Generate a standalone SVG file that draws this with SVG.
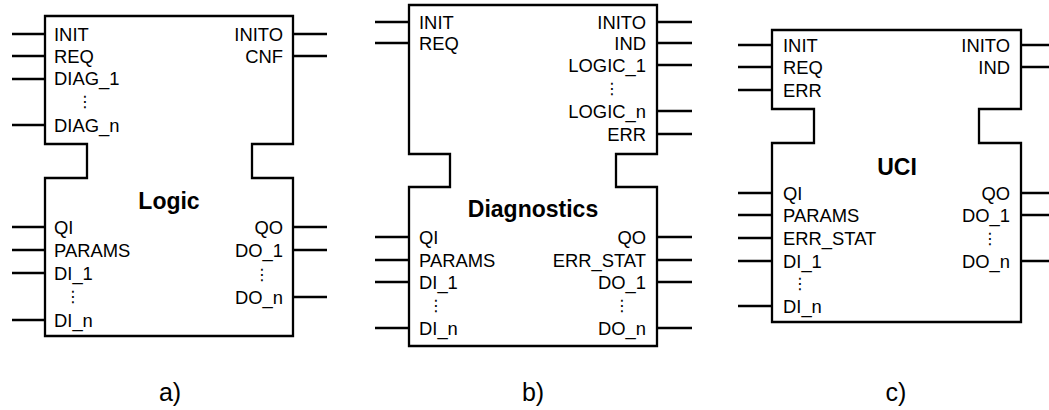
<svg xmlns="http://www.w3.org/2000/svg" width="1049" height="410" viewBox="0 0 1049 410">
<style>
.box{fill:#fff;stroke:#000;stroke-width:2.3;stroke-linejoin:miter}
.pin{stroke:#000;stroke-width:2.3;fill:none}
text{font-family:"Liberation Sans",Arial,sans-serif;fill:#000}
.l{font-size:18.4px}
.r{font-size:18.4px;text-anchor:end}
.t{font-size:23px;font-weight:bold;text-anchor:middle}
.d{font-family:"DejaVu Sans",sans-serif;font-size:16px;text-anchor:middle}
.cap{font-size:25px;text-anchor:middle}
</style>
<rect width="1049" height="410" fill="#fff"/>
<g id="connectors">
<path class="pin" d="M12,34H45M12,56H45M12,79H45M12,125H45M12,227H45M12,250H45M12,273H45M12,320H45M293,34H327M293,56H327M293,227H327M293,250H327M293,297H327"/>
<path class="pin" d="M375,22H409M375,43H409M375,237H409M375,260H409M375,282H409M375,328H409M657,22H692M657,43H692M657,65H692M657,111H692M657,134H692M657,237H692M657,260H692M657,282H692M657,328H692"/>
<path class="pin" d="M738,45H772M738,67H772M738,90H772M738,193H772M738,215H772M738,238H772M738,261H772M738,306H772M1021,45H1049M1021,67H1049M1021,193H1049M1021,215H1049M1021,261H1049"/>
</g>
<g id="logic">
<path class="box" d="M45,16H293V144H252V178H293V336H45V178H87V144H45Z"/>
<text class="l" x="54" y="40.5">INIT</text>
<text class="l" x="54" y="62.5">REQ</text>
<text class="l" x="54" y="85">DIAG_1</text>
<text class="d" x="85" y="107">⋮</text>
<text class="l" x="54" y="131.5">DIAG_n</text>
<text class="r" x="283" y="40.5">INITO</text>
<text class="r" x="283" y="62.5">CNF</text>
<text class="t" x="169" y="209">Logic</text>
<text class="l" x="54" y="233.5">QI</text>
<text class="l" x="54" y="256.5">PARAMS</text>
<text class="l" x="54" y="279.5">DI_1</text>
<text class="d" x="73" y="302">⋮</text>
<text class="l" x="54" y="326.5">DI_n</text>
<text class="r" x="283" y="233.5">QO</text>
<text class="r" x="283" y="256.5">DO_1</text>
<text class="d" x="262" y="279.5">⋮</text>
<text class="r" x="283" y="303.5">DO_n</text>
</g>
<g id="diagnostics">
<path class="box" d="M409,5H657V154H616V187H657V346H409V187H450V154H409Z"/>
<text class="l" x="419" y="28.5">INIT</text>
<text class="l" x="419" y="49.5">REQ</text>
<text class="r" x="646" y="28.5">INITO</text>
<text class="r" x="646" y="49.5">IND</text>
<text class="r" x="646" y="71.5">LOGIC_1</text>
<text class="d" x="612" y="94">⋮</text>
<text class="r" x="646" y="117.5">LOGIC_n</text>
<text class="r" x="646" y="140.5">ERR</text>
<text class="t" x="533" y="217">Diagnostics</text>
<text class="l" x="419" y="243.5">QI</text>
<text class="l" x="419" y="266.5">PARAMS</text>
<text class="l" x="419" y="288.5">DI_1</text>
<text class="d" x="436" y="311">⋮</text>
<text class="l" x="419" y="334.5">DI_n</text>
<text class="r" x="646" y="243.5">QO</text>
<text class="r" x="646" y="266.5">ERR_STAT</text>
<text class="r" x="646" y="288.5">DO_1</text>
<text class="d" x="622" y="311">⋮</text>
<text class="r" x="646" y="334.5">DO_n</text>
</g>
<g id="uci">
<path class="box" d="M772,30H1021V109H979V143H1021V322H772V143H814V109H772Z"/>
<text class="l" x="783" y="51.5">INIT</text>
<text class="l" x="783" y="73.5">REQ</text>
<text class="l" x="783" y="96.5">ERR</text>
<text class="r" x="1010" y="51.5">INITO</text>
<text class="r" x="1010" y="73.5">IND</text>
<text class="t" x="897" y="175">UCI</text>
<text class="l" x="783" y="199.5">QI</text>
<text class="l" x="783" y="221.5">PARAMS</text>
<text class="l" x="783" y="244.5">ERR_STAT</text>
<text class="l" x="783" y="267.5">DI_1</text>
<text class="d" x="800" y="289">⋮</text>
<text class="l" x="783" y="312.5">DI_n</text>
<text class="r" x="1010" y="199.5">QO</text>
<text class="r" x="1010" y="221.5">DO_1</text>
<text class="d" x="990" y="244">⋮</text>
<text class="r" x="1010" y="267.5">DO_n</text>
</g>
<g id="captions">
<text class="cap" x="170" y="401">a)</text>
<text class="cap" x="533" y="401">b)</text>
<text class="cap" x="896" y="401">c)</text>
</g>
</svg>
